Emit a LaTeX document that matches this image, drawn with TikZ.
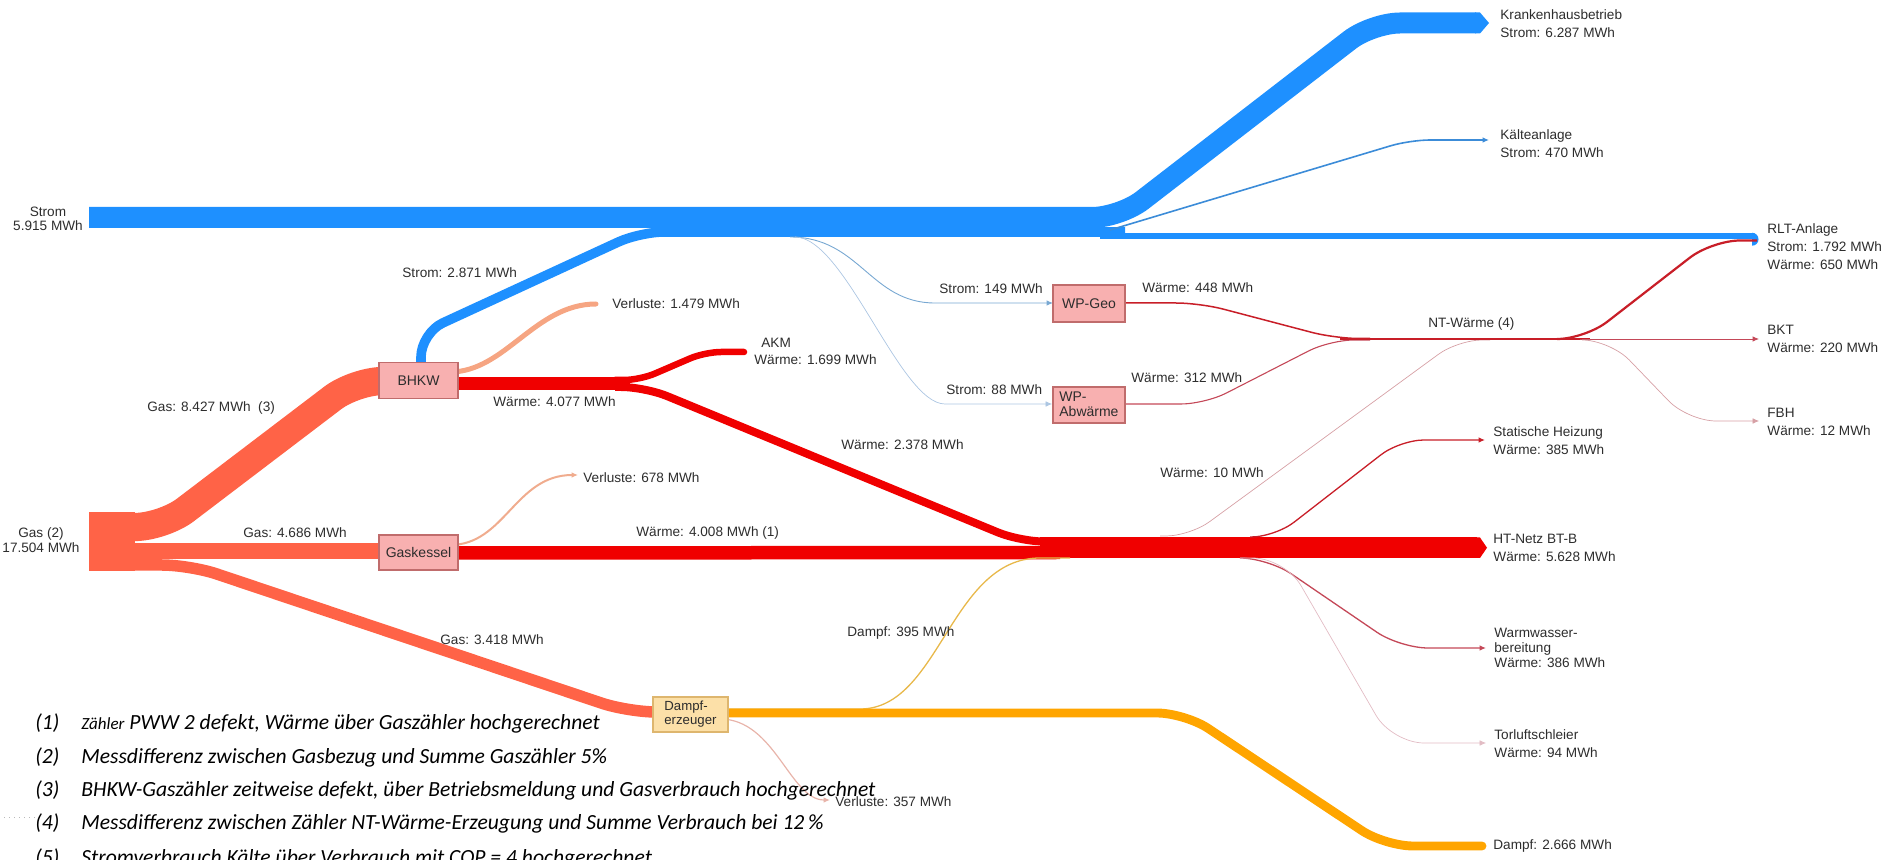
\documentclass[tikz,border=0pt]{standalone}
\usepackage{fontspec}
\setmainfont{Liberation Sans}
\newfontfamily\notefont{Carlito}
\usetikzlibrary{arrows.meta}

\definecolor{cStrom}{RGB}{30,144,255}
\definecolor{cGas}{RGB}{255,99,71}
\definecolor{cWaerme}{RGB}{240,0,0}
\definecolor{cDampf}{RGB}{255,165,0}
\definecolor{cVerl}{RGB}{246,165,130}
\definecolor{cVerlB}{RGB}{240,172,142}
\definecolor{cVerlC}{RGB}{232,180,170}
\definecolor{cBox}{RGB}{248,176,176}
\definecolor{cBoxLine}{RGB}{192,108,108}
\definecolor{cDBox}{RGB}{252,224,168}
\definecolor{cDBoxLine}{RGB}{222,182,110}
\definecolor{cKaelte}{RGB}{60,140,216}
\definecolor{cWPa}{RGB}{120,168,210}
\definecolor{cWPb}{RGB}{172,198,226}
\definecolor{cNT}{RGB}{200,30,40}
\definecolor{cNTb}{RGB}{196,72,88}
\definecolor{cPale}{RGB}{214,160,165}
\definecolor{cPaler}{RGB}{226,188,196}
\definecolor{cSteam}{RGB}{232,184,74}
\definecolor{cText}{RGB}{45,45,45}

\newcommand\lblfont{\fontsize{6.8}{9}\selectfont}
\newcommand\boxfont{\fontsize{7}{7.6}\selectfont}

\begin{document}
\begin{tikzpicture}[x=0.5pt,y=-0.5pt,
  flow/.style={line cap=butt, line join=round},
  arrowend/.style={-{Latex[length=3.2pt,width=2.8pt]}},
  lbl/.style={font=\lblfont, text=cText, inner sep=0pt, anchor=west, align=left},
  proc/.style={draw=cBoxLine, fill=cBox, line width=0.6pt, inner sep=0pt, font=\boxfont, text=cText},
  dproc/.style={draw=cDBoxLine, fill=cDBox, line width=0.6pt, inner sep=0pt},
  note/.style={font=\notefont\itshape\fontsize{10.8}{13}\selectfont, inner sep=0pt, anchor=base west}
]
\useasboundingbox (0,0) rectangle (1881,860);
\clip (0,0) rectangle (1881,860);

% ---------- anchor points of the flows ----------
\coordinate (sIn)   at (89,217.5);
\coordinate (khEnd) at (1476,23);
\coordinate (rltS)  at (1100,236);
\coordinate (rltE)  at (1755,236);
\coordinate (bhTop) at (421,363);
\coordinate (kaS)   at (1110,230);
\coordinate (kaE)   at (1489,140);
\coordinate (geoIn) at (1053,303);
\coordinate (abwIn) at (1052,404);
\coordinate (htEnd) at (1477,547.75);

% ---------- electricity ----------
\draw[flow, cStrom, line width=10.5pt, rounded corners=14pt]
  (sIn) -- (1120,217.5) -- (1372,23) -- (khEnd);
\fill[cStrom] (1475,12.5) -- (1480,12.5) -- (1489,23) -- (1480,33.5) -- (1475,33.5) -- cycle;
\draw[flow, cStrom, line width=3.25pt] (rltS) -- (1752,236);
\fill[cStrom] (1752,232.75) arc[start angle=90, end angle=-90, radius=3.25pt] -- cycle;
\draw[flow, cStrom, line width=4.8pt, rounded corners=12pt]
  (bhTop) -- (421,333) -- (640,232) -- (1125,232);
\draw[flow, cKaelte, line width=0.8pt, rounded corners=10pt, arrowend]
  (kaS) -- (1410,140) -- (kaE);
\draw[cWPa, line width=0.45pt, arrowend]
  (790,237) .. controls (860,237) and (870,303) .. (935,303) -- (geoIn);
\draw[cWPb, line width=0.35pt, arrowend]
  (795,237) .. controls (845,237) and (900,404) .. (945,404) -- (abwIn);

% ---------- gas ----------
\fill[cGas] (89,512.5) rectangle (135,571);
\draw[flow, cGas, line width=14.1pt, rounded corners=14pt]
  (120,527) -- (163,527) -- (355,381) -- (385,381);
\draw[flow, cGas, line width=8pt] (120,551) -- (385,551);
\draw[flow, cGas, line width=5.75pt, rounded corners=14pt]
  (120,565) -- (190,565) -- (628,712) -- (660,712);

% ---------- losses ----------
\draw[cVerl, line width=2.5pt, line cap=round]
  (450,372) .. controls (505,372) and (535,304) .. (596,304);
\draw[cVerlB, line width=1pt, arrowend]
  (450,545) .. controls (505,545) and (515,475) .. (578,475);
\draw[cVerlC, line width=0.6pt, arrowend]
  (720,719) .. controls (775,719) and (790,800) .. (830,800);

% ---------- heat ----------
\draw[flow, cWaerme, line width=6.85pt] (450,383.5) -- (630,383.5);
\draw[cWaerme, line width=3.25pt, line cap=round, rounded corners=8pt]
  (615,380) -- (640,380) -- (705,352) -- (744,352);
\draw[flow, cWaerme, line width=4pt, rounded corners=12pt]
  (615,387) -- (645,387) -- (1020,541.5) -- (1060,541.5);
\draw[flow, cWaerme, line width=6.75pt] (450,553) -- (1060,552.5);
\draw[flow, cWaerme, line width=10.25pt] (1040,547.75) -- (htEnd);
\fill[cWaerme] (1476,537.5) -- (1480,537.5) -- (1487,547.75) -- (1480,558) -- (1476,558) -- cycle;

% steam into the HT network and steam output
\draw[cSteam, line width=0.65pt]
  (725,709) -- (860,709) .. controls (940,709) and (950,558) .. (1040,558) -- (1070,558);
\draw[cDampf, line width=4.45pt, line cap=round, rounded corners=14pt]
  (700,713) -- (1185,713) -- (1385,846) -- (1482,846);

% branches of the HT network
\draw[cPale, line width=0.35pt, rounded corners=12pt]
  (1160,536) -- (1190,536) -- (1458,340) -- (1490,340);
\draw[cNT, line width=0.65pt, rounded corners=12pt, arrowend]
  (1250,537) -- (1275,537) -- (1400,440) -- (1485,440);
\draw[cNTb, line width=0.65pt, rounded corners=14pt, arrowend]
  (1245,558) -- (1268,558) -- (1400,648) -- (1486,648);
\draw[cPaler, line width=0.35pt, rounded corners=16pt, arrowend]
  (1240,558) -- (1285,558) -- (1392,743) -- (1486,743);

% heat pumps and low temperature heat
\draw[cNT, line width=0.75pt, rounded corners=12pt]
  (1120,303) -- (1200,303) -- (1335,338.5) -- (1370,338.5);
\draw[cNTb, line width=0.55pt, rounded corners=12pt]
  (1120,404) -- (1205,404) -- (1330,340) -- (1370,340);
\draw[cNT, line width=1.3pt] (1340,339) -- (1590,339);
\draw[cNT, line width=1.1pt, rounded corners=14pt]
  (1560,339) -- (1585,339) -- (1712,240.5) -- (1757,240.5);
\draw[cNTb, line width=0.45pt, arrowend] (1580,339) -- (1759,339);
\draw[cPale, line width=0.35pt, rounded corners=14pt, arrowend]
  (1590,340) -- (1610,340) -- (1688,421) -- (1759,421);

% ---------- conversion units ----------
\node[proc, minimum width=39.5pt, minimum height=18pt] (bhkw) at (418.5,380.5) {BHKW};
\node[proc, minimum width=39.5pt, minimum height=17.5pt] (kessel) at (418.5,552.5) {Gaskessel};
\node[proc, minimum width=36pt, minimum height=18.5pt] (wpgeo) at (1089,303.5) {WP-Geo};
\node[proc, minimum width=36pt, minimum height=18pt] (wpabw) at (1089,405) {};
\node[lbl, font=\fontsize{7}{7.5}\selectfont] (wpabwT) at (1059,404) {WP-\\Abwärme};
\node[dproc, minimum width=37.5pt, minimum height=17.5pt] (dampferz) at (690.5,714.5) {};
\node[lbl, font=\fontsize{6.6}{7.4}\selectfont] (dampferzT) at (664,714) {Dampf-\\erzeuger};

% ---------- sources ----------
\node[lbl, anchor=center, align=center, font=\fontsize{6.8}{7}\selectfont] (lStrom) at (48,219) {Strom\\5.915 MWh};
\node[lbl, anchor=center, align=center, font=\fontsize{6.8}{7.5}\selectfont] (lGas) at (41,540.5) {Gas (2)\\17.504 MWh};

% ---------- flow labels ----------
\node[lbl] (lS2871) at (402,273) {Strom: 2.871 MWh};
\node[lbl] (lV1479) at (612,304) {Verluste: 1.479 MWh};
\node[lbl] (lAKM)   at (761,343) {AKM};
\node[lbl] (lW1699) at (754,360) {Wärme: 1.699 MWh};
\node[lbl] (lG8427) at (147,408) {Gas: 8.427 MWh\ \ (3)};
\node[lbl] (lW4077) at (493,402) {Wärme: 4.077 MWh};
\node[lbl] (lV678)  at (583,478) {Verluste: 678 MWh};
\node[lbl] (lG4686) at (243,533) {Gas: 4.686 MWh};
\node[lbl] (lW4008) at (636,533) {Wärme: 4.008 MWh (1)};
\node[lbl] (lW2378) at (841,445) {Wärme: 2.378 MWh};
\node[lbl] (lS149)  at (939,289) {Strom: 149 MWh};
\node[lbl] (lS88)   at (946,390) {Strom: 88 MWh};
\node[lbl] (lW448)  at (1142,288) {Wärme: 448 MWh};
\node[lbl] (lW312)  at (1131,378) {Wärme: 312 MWh};
\node[lbl] (lW10)   at (1160,473) {Wärme: 10 MWh};
\node[lbl] (lNT)    at (1428,324) {NT-Wärme (4)};
\node[lbl] (lG3418) at (440,640) {Gas: 3.418 MWh};
\node[lbl] (lD395)  at (847,633) {Dampf: 395 MWh};
\node[lbl] (lV357)  at (835,802) {Verluste: 357 MWh};

% ---------- consumers ----------
\node[lbl] (lKH)   at (1500,24)    {Krankenhausbetrieb\\Strom: 6.287 MWh};
\node[lbl] (lKA)   at (1500,143.5) {Kälteanlage\\Strom: 470 MWh};
\node[lbl] (lRLT)  at (1767,246.5) {RLT-Anlage\\Strom: 1.792 MWh\\Wärme: 650 MWh};
\node[lbl] (lBKT)  at (1767,339)   {BKT\\Wärme: 220 MWh};
\node[lbl] (lFBH)  at (1767,422)   {FBH\\Wärme: 12 MWh};
\node[lbl] (lSH)   at (1493,441)   {Statische Heizung\\Wärme: 385 MWh};
\node[lbl] (lHT)   at (1493,548)   {HT-Netz BT-B\\Wärme: 5.628 MWh};
\node[lbl, font=\fontsize{6.8}{7.6}\selectfont] (lWW) at (1494,648) {Warmwasser-\\bereitung\\Wärme: 386 MWh};
\node[lbl] (lTL)   at (1494,744)   {Torluftschleier\\Wärme: 94 MWh};
\node[lbl] (lD2666) at (1493,846)  {Dampf: 2.666 MWh};

% ---------- footnotes ----------
\draw[gray!55, dotted, line width=0.5pt] (4,818) -- (40,818);
\node[note] (n1) at (35,730) {(1)};
\node[note] (t1) at (81,730) {{\fontsize{8.5}{10}\selectfont Zähler} PWW 2 defekt, Wärme über Gaszähler hochgerechnet};
\node[note] (n2) at (35,764) {(2)};
\node[note] (t2) at (81,764) {Messdifferenz zwischen Gasbezug und Summe Gaszähler 5\%};
\node[note] (n3) at (35,797) {(3)};
\node[note] (t3) at (81,797) {BHKW-Gaszähler zeitweise defekt, über Betriebsmeldung und Gasverbrauch hochgerechnet};
\node[note] (n4) at (35,830) {(4)};
\node[note] (t4) at (81,830) {Messdifferenz zwischen Zähler NT-Wärme-Erzeugung und Summe Verbrauch bei 12\,\%};
\node[note] (n5) at (35,864) {(5)};
\node[note] (t5) at (81,864) {Stromverbrauch Kälte über Verbrauch mit COP = 4 hochgerechnet};
\end{tikzpicture}
\end{document}
